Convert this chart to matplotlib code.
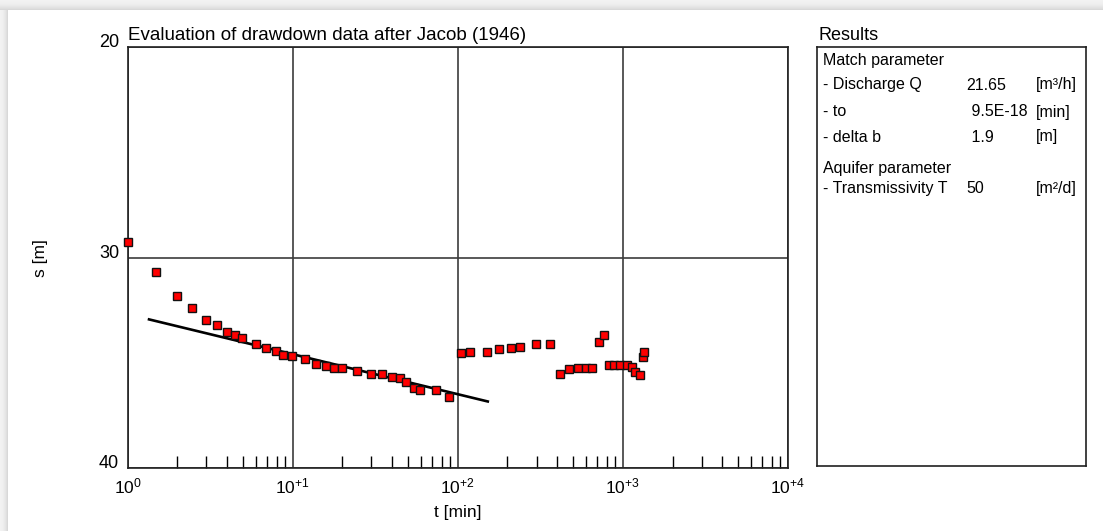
import numpy as np
import matplotlib
matplotlib.use('Agg')
import matplotlib.pyplot as plt

plt.rcParams['font.family'] = 'Liberation Sans'
plt.rcParams['mathtext.fontset'] = 'custom'
plt.rcParams['mathtext.rm'] = 'Liberation Sans'
plt.rcParams['mathtext.it'] = 'Liberation Sans'

# observed drawdown (t in min, s in m)
t_obs = [1.0, 1.49, 2.0, 2.47, 2.98, 3.47, 3.99, 4.48, 4.94, 5.96, 6.88, 7.91, 8.79, 9.97,
         11.9, 13.9, 15.9, 17.9, 20.0, 24.5, 29.8, 34.7, 39.9, 44.8, 48.8, 54.5, 59.2, 74.1, 88.4,
         104.5, 118.5, 149.6, 178.6, 209, 239, 298, 360,
         416, 472, 535, 595, 653, 720, 773, 825, 888, 957, 1060, 1137, 1191, 1265, 1319, 1336]
s_obs = [29.28, 30.71, 31.81, 32.42, 32.96, 33.21, 33.54, 33.70, 33.81, 34.10, 34.29, 34.43, 34.65, 34.67,
         34.82, 35.06, 35.14, 35.24, 35.25, 35.41, 35.52, 35.53, 35.69, 35.74, 35.93, 36.22, 36.30, 36.30, 36.65,
         34.56, 34.49, 34.49, 34.35, 34.29, 34.24, 34.13, 34.13,
         35.52, 35.28, 35.25, 35.25, 35.25, 34.00, 33.70, 35.11, 35.11, 35.11, 35.13, 35.22, 35.43, 35.57, 34.73, 34.49]

# Jacob straight line
t_fit = [1.35, 152]
s_fit = [32.94, 36.84]

xticks = [1, 10, 100, 1000, 10000]
xticklabels = [r'$10^{0}$', r'$10^{+1}$', r'$10^{+2}$', r'$10^{+3}$', r'$10^{+4}$']
yticks = [20, 30, 40]

results_rows = [
    ('- Discharge Q', '21.65', '[m³/h]'),
    ('- to', ' 9.5E-18', '[min]'),
    ('- delta b', ' 1.9', '[m]'),
]
aquifer_rows = [
    ('- Transmissivity T', '50', '[m²/d]'),
]

W, H = 1103, 531
def fx(px):
    return px / W
def fy(py):
    return 1 - py / H

fig = plt.figure(figsize=(W / 100, H / 100), dpi=100)
fig.patch.set_facecolor('white')

# window shadow along top and left
bg = np.ones((H, W, 3))
for i in range(10):
    v = 0.95 - 0.10 * (i / 9.0) ** 2
    bg[i, :, :] = v
for j in range(8):
    v = 0.95 - 0.10 * (j / 7.0) ** 2
    bg[10:, j, :] = np.minimum(bg[10:, j, :], v)
fig.figimage(bg, xo=0, yo=0, origin='upper', zorder=-10)

ax = fig.add_axes([fx(127.5), fy(468), (788 - 127.5) / W, (468 - 47) / H])
ax.set_xscale('log')
ax.set_xlim(1, 1e4)
ax.set_ylim(40, 20)
ax.set_facecolor('white')

ax.plot(t_fit, s_fit, color='black', lw=1.9, zorder=3)
ax.plot(t_obs, s_obs, ls='none', marker='s', ms=5.2, mfc='#ff0000', mec='#111111', mew=1.0, zorder=4,
        clip_on=False)

ax.set_xticks(xticks)
ax.set_xticklabels(xticklabels, fontsize=12.5)
ax.set_yticks(yticks)
ax.set_yticklabels([str(v) for v in yticks], fontsize=13, va='baseline')
ax.xaxis.set_minor_locator(matplotlib.ticker.LogLocator(base=10, subs=np.arange(2, 10)))
ax.xaxis.set_minor_formatter(matplotlib.ticker.NullFormatter())
ax.tick_params(axis='x', which='major', length=0, pad=6)
ax.tick_params(axis='x', which='minor', direction='in', length=8.5, width=1, color='black')
ax.tick_params(axis='y', which='both', length=0, pad=6)
ax.grid(which='major', color='#3c3c3c', lw=1.2)
for sp in ax.spines.values():
    sp.set_color('#202020')
    sp.set_linewidth(1.2)

fig.text(fx(128), fy(35), 'Evaluation of drawdown data after Jacob (1946)', fontsize=13.5,
         ha='left', va='center')
fig.text(fx(40), fy(258), 's [m]', fontsize=12.5, rotation=90, ha='center', va='center')
fig.text(fx(458), fy(513), 't [min]', fontsize=12.5, ha='center', va='center')

# results panel
fig.text(fx(818), fy(35), 'Results', fontsize=13, ha='left', va='center')
box = fig.add_axes([fx(817.3), fy(466), (1086 - 817.3) / W, (466 - 47.3) / H])
box.set_xticks([])
box.set_yticks([])
for sp in box.spines.values():
    sp.set_color('#202020')
    sp.set_linewidth(1.2)

fs = 11.5
fig.text(fx(822.7), fy(60.7), 'Match parameter', fontsize=fs, ha='left', va='center')
row_y = [85, 112, 137]
for (name, val, unit), y in zip(results_rows, row_y):
    fig.text(fx(822.7), fy(y), name, fontsize=fs, ha='left', va='center')
    fig.text(fx(966.7), fy(y), val, fontsize=fs, ha='left', va='center')
    fig.text(fx(1036), fy(y), unit, fontsize=fs, ha='left', va='center')
fig.text(fx(822.7), fy(168), 'Aquifer parameter', fontsize=fs, ha='left', va='center')
for (name, val, unit), y in zip(aquifer_rows, [189]):
    fig.text(fx(822.7), fy(y), name, fontsize=fs, ha='left', va='center')
    fig.text(fx(966.7), fy(y), val, fontsize=fs, ha='left', va='center')
    fig.text(fx(1036), fy(y), unit, fontsize=fs, ha='left', va='center')

fig.savefig('out.png', dpi=100)
